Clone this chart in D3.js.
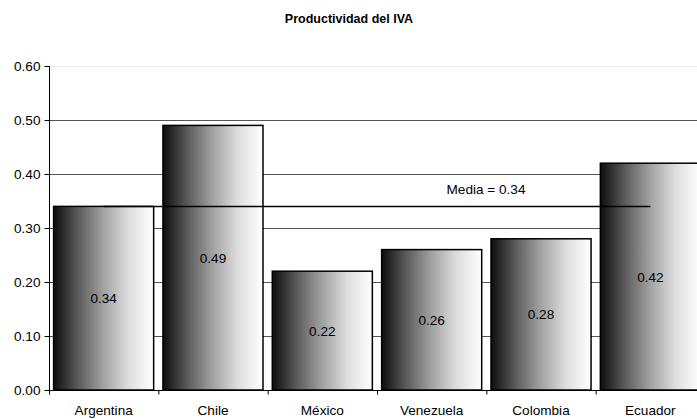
<!DOCTYPE html>
<html>
<head>
<meta charset="utf-8">
<script src="https://cdn.jsdelivr.net/npm/d3@7"></script>
<style>
  html, body { margin: 0; padding: 0; background: #fff; }
  svg { display: block; font-family: "Liberation Sans", Arial, sans-serif; }
</style>
</head>
<body>
<svg id="chart" width="697" height="419"></svg>
<script>
// Productividad del IVA por país
const countries = ["Argentina", "Chile", "México", "Venezuela", "Colombia", "Ecuador"];
const productivity = [0.34, 0.49, 0.22, 0.26, 0.28, 0.42];
const meanValue = 0.34;
const yTicks = [0, 0.1, 0.2, 0.3, 0.4, 0.5, 0.6];

const svg = d3.select("#chart");
const margin = { left: 49, top: 66, bottom: 29 };
const plotW = 656;
const plotH = 419 - margin.top - margin.bottom;
const fontSize = 13.6;

const x = d3.scaleBand().domain(countries).range([margin.left, margin.left + plotW])
  .paddingInner(0.085).paddingOuter(0.042);
const y = d3.scaleLinear().domain([0, 0.6]).range([margin.top + plotH, margin.top]);

// horizontal shading inside each bar: dark on the left, white on the right
const grad = svg.append("defs").append("linearGradient")
  .attr("id", "barShade").attr("x1", "0%").attr("x2", "100%").attr("y1", "0%").attr("y2", "0%");
grad.append("stop").attr("offset", "0%").attr("stop-color", "#0d0d0d");
grad.append("stop").attr("offset", "25%").attr("stop-color", "#5c5c5c");
grad.append("stop").attr("offset", "50%").attr("stop-color", "#a2a2a2");
grad.append("stop").attr("offset", "75%").attr("stop-color", "#dedede");
grad.append("stop").attr("offset", "100%").attr("stop-color", "#ffffff");

// title
svg.append("text")
  .attr("x", 349).attr("y", 23)
  .attr("text-anchor", "middle")
  .attr("font-size", 12.5).attr("font-weight", "bold")
  .text("Productividad del IVA");

// gridlines
svg.append("g").selectAll("line").data(yTicks.filter(d => d > 0)).join("line")
  .attr("x1", margin.left).attr("x2", margin.left + plotW)
  .attr("y1", d => Math.round(y(d)) + 0.5).attr("y2", d => Math.round(y(d)) + 0.5)
  .attr("stroke", d => d === 0.6 ? "#ececec" : "#555")
  .attr("stroke-width", 1);

// bars
svg.append("g").selectAll("rect").data(productivity).join("rect")
  .attr("x", (d, i) => x(countries[i]))
  .attr("y", d => y(d))
  .attr("width", x.bandwidth())
  .attr("height", d => y(0) - y(d))
  .attr("fill", "url(#barShade)")
  .attr("stroke", "#000")
  .attr("stroke-width", 1.5);

// value labels in the middle of each bar
svg.append("g").selectAll("text").data(productivity).join("text")
  .attr("x", (d, i) => x(countries[i]) + x.bandwidth() / 2)
  .attr("y", d => (y(d) + y(0)) / 2 + 5)
  .attr("text-anchor", "middle")
  .attr("font-size", fontSize)
  .attr("fill", "#000")
  .text(d => d.toFixed(2));

// mean line, from first to last category centre
const bandW = plotW / countries.length;
const cx = c => margin.left + countries.indexOf(c) * bandW + bandW / 2;
svg.append("line")
  .attr("x1", cx(countries[0])).attr("x2", cx(countries[countries.length - 1]))
  .attr("y1", y(meanValue)).attr("y2", y(meanValue))
  .attr("stroke", "#000").attr("stroke-width", 1.5);
svg.append("text")
  .attr("x", 486).attr("y", y(meanValue) - 12)
  .attr("text-anchor", "middle")
  .attr("font-size", fontSize)
  .text("Media = " + meanValue.toFixed(2));

// y axis
const yAxis = d3.axisLeft(y).tickValues(yTicks).tickFormat(d3.format(".2f")).tickSize(5).tickPadding(4);
const gy = svg.append("g").attr("transform", `translate(${margin.left + 0.5},0)`).call(yAxis);
gy.select(".domain").attr("stroke", "#000").attr("d", `M0,${y(0.6)}V${y(0)}`);
gy.selectAll(".tick line").attr("stroke", "#000");
gy.selectAll(".tick text").attr("font-size", fontSize).attr("fill", "#000")
  .attr("font-family", "Liberation Sans, Arial, sans-serif");

// x axis with ticks on category boundaries
const gx = svg.append("g").attr("transform", `translate(0,${y(0) + 0.5})`);
gx.append("line").attr("x1", margin.left).attr("x2", margin.left + plotW)
  .attr("stroke", "#000").attr("stroke-width", 1);
gx.selectAll("line.bt").data(d3.range(countries.length + 1)).join("line")
  .attr("class", "bt")
  .attr("x1", i => margin.left + i * bandW + 0.5)
  .attr("x2", i => margin.left + i * bandW + 0.5)
  .attr("y1", 0).attr("y2", 4)
  .attr("stroke", "#000");
gx.selectAll("text").data(countries).join("text")
  .attr("x", c => cx(c))
  .attr("y", 24)
  .attr("text-anchor", "middle")
  .attr("font-size", fontSize)
  .text(c => c);
</script>
</body>
</html>
